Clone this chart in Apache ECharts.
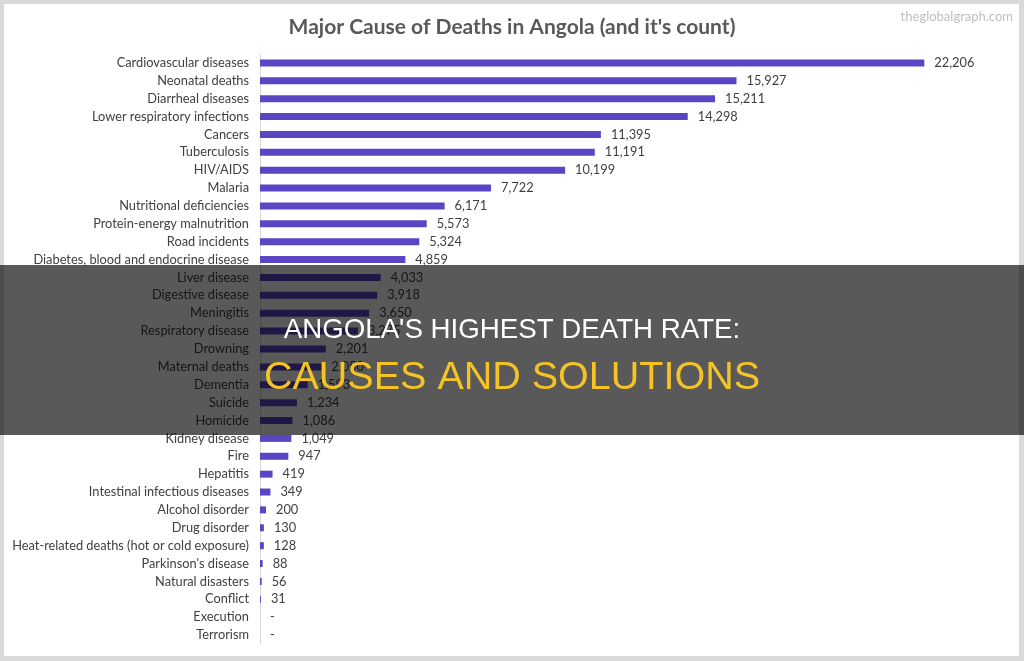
<!DOCTYPE html>
<html><head><meta charset="utf-8">
<script src="https://cdn.jsdelivr.net/npm/echarts@6/dist/echarts.min.js"></script>
<style>html,body{margin:0;padding:0;background:#d9d9d9;}#c{width:1024px;height:661px;}</style>
</head><body><div id="c"></div>
<script>
const categories = ["Cardiovascular diseases","Neonatal deaths","Diarrheal diseases","Lower respiratory infections","Cancers","Tuberculosis","HIV/AIDS","Malaria","Nutritional deficiencies","Protein-energy malnutrition","Road incidents","Diabetes, blood and endocrine disease","Liver disease","Digestive disease","Meningitis","Respiratory disease","Drowning","Maternal deaths","Dementia","Suicide","Homicide","Kidney disease","Fire","Hepatitis","Intestinal infectious diseases","Alcohol disorder","Drug disorder","Heat-related deaths (hot or cold exposure)","Parkinson's disease","Natural disasters","Conflict","Execution","Terrorism"];
const deaths = [22206,15927,15211,14298,11395,11191,10199,7722,6171,5573,5324,4859,4033,3918,3650,3275,2201,2050,1593,1234,1086,1049,947,419,349,200,130,128,88,56,31,0,0];
const titleText = "Major Cause of Deaths in Angola (and it's count)";
const watermark = "theglobalgraph.com";
const headline1 = "ANGOLA'S HIGHEST DEATH RATE:";
const headline2 = "CAUSES AND SOLUTIONS";

const chart = echarts.init(document.getElementById('c'));
const font = "Lato, 'Open Sans', sans-serif";
chart.setOption({
  animation: false,
  backgroundColor: '#d9d9d9',
  grid: { left: 260, right: 46, top: 54, bottom: 17, containLabel: false },
  xAxis: { type: 'value', min: 0, max: 24000, show: false },
  yAxis: {
    type: 'category', data: categories, inverse: true,
    axisLine: { show: true, lineStyle: { color: '#d9d9d9', width: 1 } },
    axisTick: { show: false },
    axisLabel: { color: '#404040', fontSize: 12.8, fontFamily: font, margin: 11 }
  },
  graphic: [
    { type: 'rect', z: -10, silent: true, shape: { x: 4, y: 4, width: 1015, height: 652 }, style: { fill: '#ffffff' } },
    { type: 'text', left: 'center', top: 17, style: { text: titleText, fill: '#595959', font: "bold 21px " + font } },
    { type: 'text', right: 11, top: 10, style: { text: watermark, fill: '#bfbfbf', font: "13px " + font } },
    { type: 'rect', z: 100, silent: true, shape: { x: 0, y: 265, width: 1024, height: 170 }, style: { fill: 'rgba(0,0,0,0.65)' } },
    { type: 'text', z: 101, left: 'center', top: 316, style: { text: headline1, fill: '#ffffff', font: "27.7px 'Liberation Sans', Arial, sans-serif" } },
    { type: 'text', z: 101, left: 'center', top: 358, style: { text: headline2, fill: '#f5c324', font: "39.5px 'Liberation Sans', Arial, sans-serif" } }
  ],
  series: [{
    type: 'bar', data: deaths, barWidth: 7,
    itemStyle: { color: '#5b45c4' },
    label: {
      show: true, position: 'right', distance: 10, color: '#404040', fontSize: 12.8, fontFamily: font,
      formatter: p => p.value === 0 ? '-' : p.value.toLocaleString('en-US')
    }
  }]
});
</script></body></html>
